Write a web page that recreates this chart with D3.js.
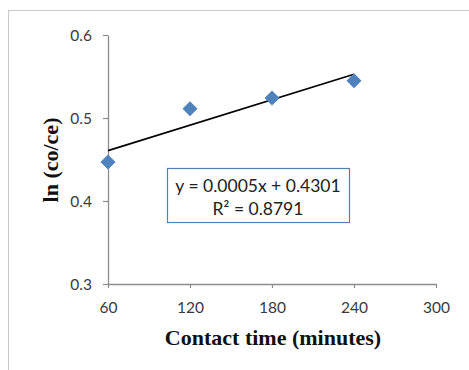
<!DOCTYPE html>
<html><head><meta charset="utf-8">
<script src="https://cdn.jsdelivr.net/npm/d3@7"></script>
<style>body{margin:0;background:#fff}</style>
</head><body>
<svg id="c" width="469" height="370"></svg>
<script>
const xTicks = [60, 120, 180, 240, 300];
const yTicks = [0.3, 0.4, 0.5, 0.6];
const times = [60, 120, 180, 240];
const lnRatio = [0.447, 0.511, 0.524, 0.545];
const equationText = "y = 0.0005x + 0.4301";
const r2Text = "R² = 0.8791";
const xTitle = "Contact time (minutes)";
const yTitle = "ln (co/ce)";

const svg = d3.select("#c");
svg.append("rect").attr("x", 8.5).attr("y", 10.5).attr("width", 480).attr("height", 380)
  .attr("fill", "#fff").attr("stroke", "#c8c8c8");

const x = d3.scaleLinear().domain([60, 300]).range([108, 436]);
const y = d3.scaleLinear().domain([0.3, 0.6]).range([284, 35]);

const tickFont = "Lato, 'Open Sans', sans-serif";
const xa = svg.append("g").attr("transform", "translate(0,284)")
  .call(d3.axisBottom(x).tickValues(xTicks).tickSize(4).tickSizeOuter(0).tickFormat(d3.format("d")));
const ya = svg.append("g").attr("transform", "translate(108,0)")
  .call(d3.axisLeft(y).tickValues(yTicks).tickSize(5).tickSizeOuter(0).tickFormat(d3.format(".1f")));
[xa, ya].forEach(g => {
  g.select(".domain").attr("stroke", "#8c8c8c").attr("stroke-width", 1.3);
  g.selectAll(".tick line").attr("stroke", "#8c8c8c").attr("stroke-width", 1.2);
  g.selectAll("text").attr("font-family", tickFont).attr("font-size", 15.5).attr("fill", "#3a3a3a");
});
xa.selectAll("text").attr("y", 29).attr("dy", 0);
ya.selectAll("text").attr("x", -16).attr("dy", "0.35em");

// regression trendline
const mx = d3.mean(times), my = d3.mean(lnRatio);
const slope = d3.sum(times, (t, i) => (t - mx) * (lnRatio[i] - my)) / d3.sum(times, t => (t - mx) ** 2);
const icpt = my - slope * mx;
const x0 = d3.min(times), x1 = d3.max(times);
svg.append("line")
  .attr("x1", x(x0)).attr("y1", y(icpt + slope * x0))
  .attr("x2", x(x1)).attr("y2", y(icpt + slope * x1))
  .attr("stroke", "#000").attr("stroke-width", 1.6);

svg.append("g").selectAll("path").data(times).join("path")
  .attr("transform", (t, i) => `translate(${x(t)},${y(lnRatio[i])})`)
  .attr("d", "M0,-7.5L7.5,0L0,7.5L-7.5,0Z")
  .attr("fill", "#4f81bd");

// equation box
svg.append("rect").attr("x", 167.5).attr("y", 168.5).attr("width", 182).attr("height", 54)
  .attr("fill", "#fff").attr("stroke", "#4f81bd").attr("stroke-width", 1.2);
svg.append("text").attr("x", 258).attr("y", 192).attr("text-anchor", "middle")
  .attr("font-family", tickFont).attr("font-size", 17.5).attr("fill", "#222").text(equationText);
svg.append("text").attr("x", 258).attr("y", 215).attr("text-anchor", "middle")
  .attr("font-family", tickFont).attr("font-size", 17.5).attr("fill", "#222").text(r2Text);

svg.append("text").attr("x", 273).attr("y", 345).attr("text-anchor", "middle")
  .attr("font-family", "'Liberation Serif', 'Times New Roman', serif").attr("font-weight", "bold")
  .attr("font-size", 22).attr("fill", "#111").text(xTitle);
svg.append("text").attr("transform", "translate(58,160) rotate(-90)").attr("text-anchor", "middle")
  .attr("font-family", "'Liberation Serif', 'Times New Roman', serif").attr("font-weight", "bold")
  .attr("font-size", 22).attr("fill", "#111").text(yTitle);
</script>
</body></html>
